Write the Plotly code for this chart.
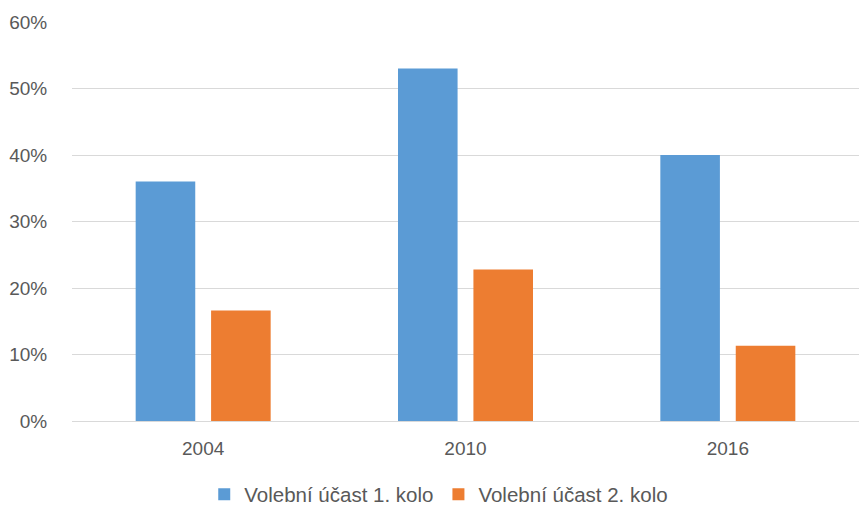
import plotly.graph_objects as go

years = ["2004", "2010", "2016"]
round1 = [0.36, 0.53, 0.40]
round2 = [0.166, 0.228, 0.113]
series_names = ["Volební účast 1. kolo", "Volební účast 2. kolo"]

fig = go.Figure()
fig.add_trace(go.Bar(x=years, y=round1, name=series_names[0],
                     marker=dict(color="#5b9bd5", line=dict(width=0))))
fig.add_trace(go.Bar(x=years, y=round2, name=series_names[1],
                     marker=dict(color="#ed7d31", line=dict(width=0))))

fig.update_layout(
    width=859, height=507,
    margin=dict(l=72, r=0, t=22, b=86, autoexpand=False),
    plot_bgcolor="white", paper_bgcolor="white",
    barmode="group", bargap=0.425, bargroupgap=0.21,
    font=dict(family="Liberation Sans, Arial", size=19, color="#595959"),
    legend=dict(orientation="h", x=0.466, xanchor="center",
                yref="container", y=0.025, yanchor="middle",
                font=dict(size=20.5), itemwidth=30, traceorder="normal"),
)
fig.update_yaxes(range=[0, 0.6], dtick=0.1, tickformat=".0%", automargin=False,
                 showgrid=True, gridcolor="#d9d9d9", gridwidth=1,
                 zeroline=True, zerolinecolor="#d9d9d9", zerolinewidth=1,
                 ticks="outside", ticklen=20, tickcolor="white", fixedrange=True)
fig.update_xaxes(showline=False, ticks="outside", ticklen=10, tickcolor="white",
                 automargin=False, fixedrange=True)

# page body has a default 8px margin, drop it so the figure sits at 0,0
fig.write_html("out.html", config={"displayModeBar": False},
               post_script="document.body.style.margin='0';document.body.style.overflow='hidden';")
